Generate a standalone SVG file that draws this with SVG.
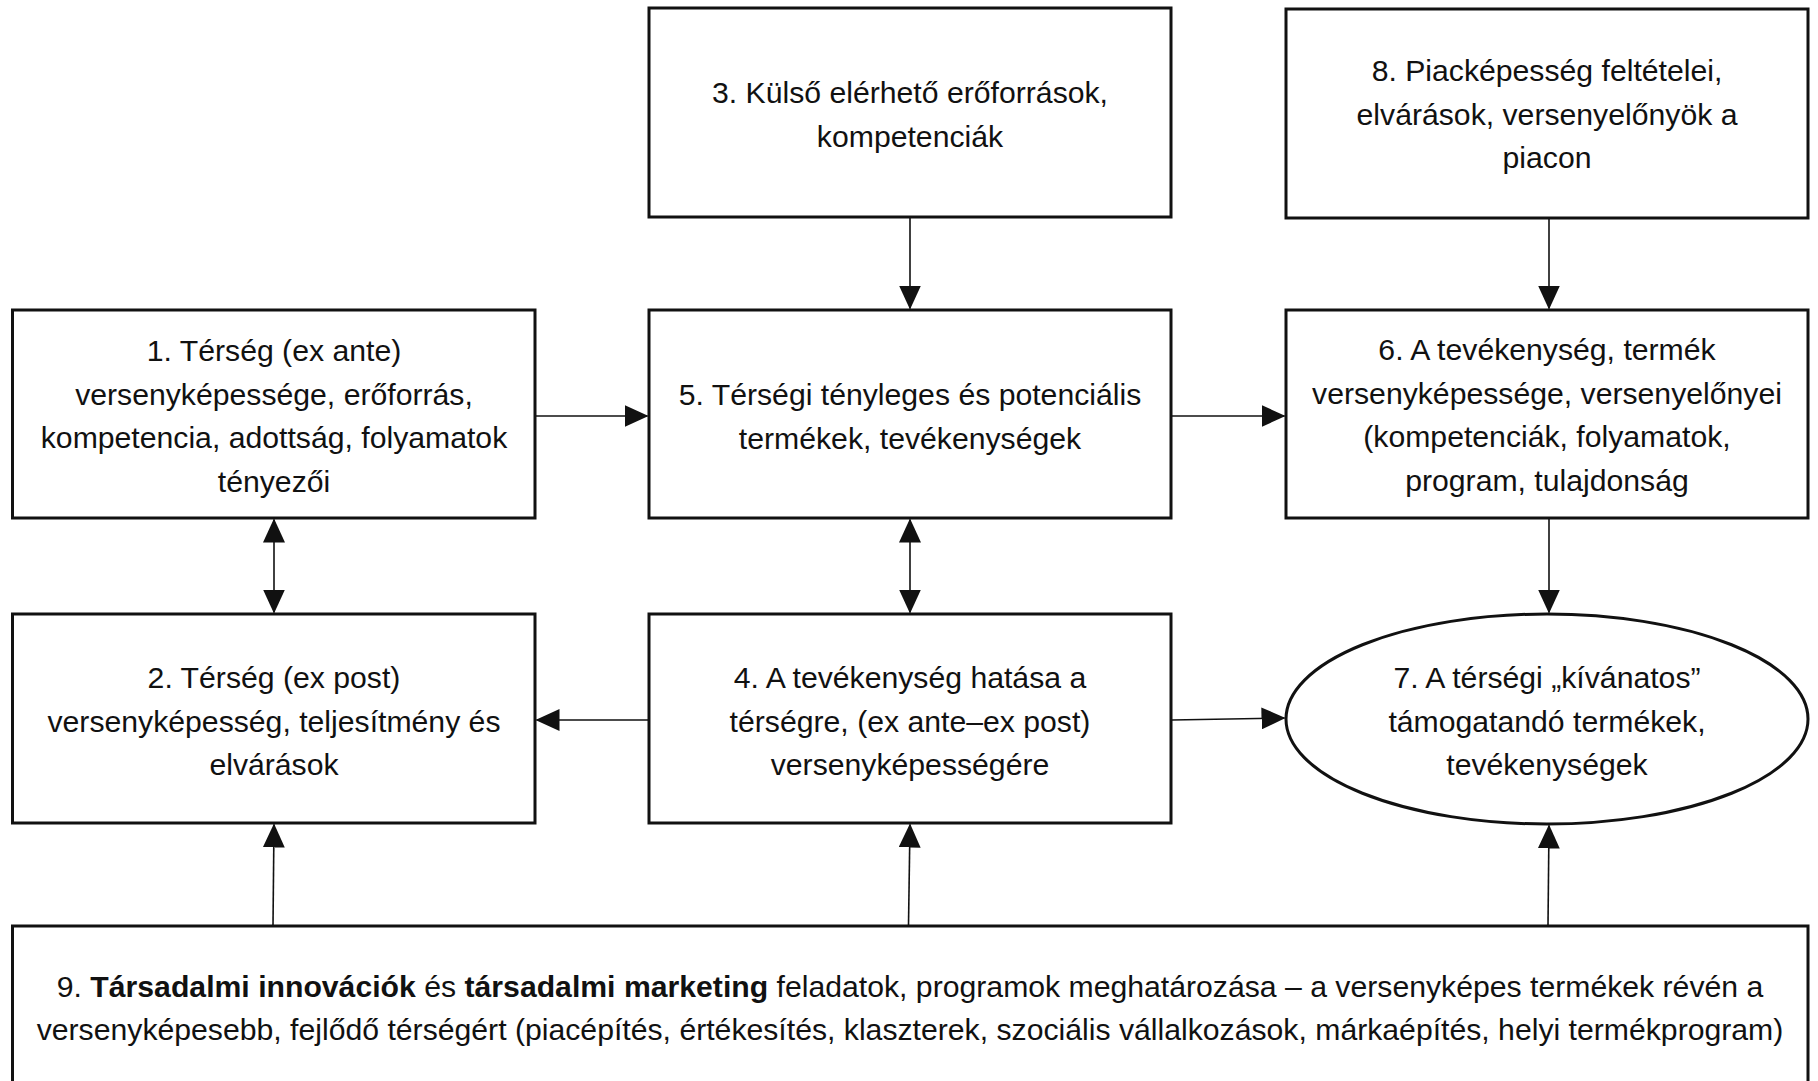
<svg xmlns="http://www.w3.org/2000/svg" width="1818" height="1081" viewBox="0 0 1818 1081">
<style>
.box{fill:#fff;stroke:#111;stroke-width:3}
.t{font-family:"Liberation Sans",Arial,sans-serif;font-size:30.2px;fill:#111;text-anchor:middle}
.b{font-weight:bold}
.c{stroke:#111;stroke-width:1.6;fill:none}
</style>
<defs>
<marker id="ah" markerUnits="userSpaceOnUse" markerWidth="24" markerHeight="22" viewBox="0 0 24 22" refX="23" refY="11" orient="auto-start-reverse">
<path d="M0,0 L24,11 L0,22 Z" fill="#111"/>
</marker>
</defs>
<rect width="1818" height="1081" fill="#fff"/>
<g id="n3"><rect class="box" x="649" y="8" width="522" height="209"/>
<text class="t" x="910" y="103">3. Külső elérhető erőforrások,</text>
<text class="t" x="910" y="146.5">kompetenciák</text></g>
<g id="n8"><rect class="box" x="1286" y="9" width="522" height="209"/>
<text class="t" x="1547" y="81">8. Piacképesség feltételei,</text>
<text class="t" x="1547" y="124.5">elvárások, versenyelőnyök a</text>
<text class="t" x="1547" y="168">piacon</text></g>
<g id="n1"><rect class="box" x="12.5" y="310" width="522.5" height="208"/>
<text class="t" x="274" y="361">1. Térség (ex ante)</text>
<text class="t" x="274" y="404.5">versenyképessége, erőforrás,</text>
<text class="t" x="274" y="448">kompetencia, adottság, folyamatok</text>
<text class="t" x="274" y="491.5">tényezői</text></g>
<g id="n5"><rect class="box" x="649" y="310" width="522" height="208"/>
<text class="t" x="910" y="405">5. Térségi tényleges és potenciális</text>
<text class="t" x="910" y="448.5">termékek, tevékenységek</text></g>
<g id="n6"><rect class="box" x="1286" y="310" width="522" height="208"/>
<text class="t" x="1547" y="360">6. A tevékenység, termék</text>
<text class="t" x="1547" y="403.5">versenyképessége, versenyelőnyei</text>
<text class="t" x="1547" y="447">(kompetenciák, folyamatok,</text>
<text class="t" x="1547" y="490.5">program, tulajdonság</text></g>
<g id="n2"><rect class="box" x="12.5" y="614" width="522.5" height="209"/>
<text class="t" x="274" y="688">2. Térség (ex post)</text>
<text class="t" x="274" y="731.5">versenyképesség, teljesítmény és</text>
<text class="t" x="274" y="775">elvárások</text></g>
<g id="n4"><rect class="box" x="649" y="614" width="522" height="209"/>
<text class="t" x="910" y="688">4. A tevékenység hatása a</text>
<text class="t" x="910" y="731.5">térségre, (ex ante–ex post)</text>
<text class="t" x="910" y="775">versenyképességére</text></g>
<g id="n7"><ellipse class="box" cx="1547" cy="719" rx="261" ry="105"/>
<text class="t" x="1547" y="688">7. A térségi „kívánatos”</text>
<text class="t" x="1547" y="731.5">támogatandó termékek,</text>
<text class="t" x="1547" y="775">tevékenységek</text></g>
<g id="n9"><rect class="box" x="12.5" y="926" width="1795.5" height="200"/>
<text class="t" x="910" y="997">9. <tspan class="b">Társadalmi innovációk</tspan> és <tspan class="b">társadalmi marketing</tspan> feladatok, programok meghatározása – a versenyképes termékek révén a</text>
<text class="t" x="910" y="1040">versenyképesebb, fejlődő térségért (piacépítés, értékesítés, klaszterek, szociális vállalkozások, márkaépítés, helyi termékprogram)</text></g>
<g id="connectors">
<line class="c" x1="910" y1="218" x2="910" y2="308.5" marker-end="url(#ah)"/>
<line class="c" x1="1549" y1="219" x2="1549" y2="308.5" marker-end="url(#ah)"/>
<line class="c" x1="536" y1="416" x2="647.5" y2="416" marker-end="url(#ah)"/>
<line class="c" x1="1172" y1="416" x2="1284.5" y2="416" marker-end="url(#ah)"/>
<line class="c" x1="274" y1="519.5" x2="274" y2="612.5" marker-start="url(#ah)" marker-end="url(#ah)"/>
<line class="c" x1="910" y1="519.5" x2="910" y2="612.5" marker-start="url(#ah)" marker-end="url(#ah)"/>
<line class="c" x1="1549" y1="519" x2="1549" y2="612.5" marker-end="url(#ah)"/>
<line class="c" x1="648" y1="720" x2="536.5" y2="720" marker-end="url(#ah)"/>
<line class="c" x1="1172" y1="720" x2="1284.5" y2="718" marker-end="url(#ah)"/>
<line class="c" x1="273" y1="925" x2="274" y2="824.5" marker-end="url(#ah)"/>
<line class="c" x1="908.5" y1="925" x2="910" y2="824.5" marker-end="url(#ah)"/>
<line class="c" x1="1548" y1="925" x2="1549" y2="825.5" marker-end="url(#ah)"/>
</g>
</svg>
